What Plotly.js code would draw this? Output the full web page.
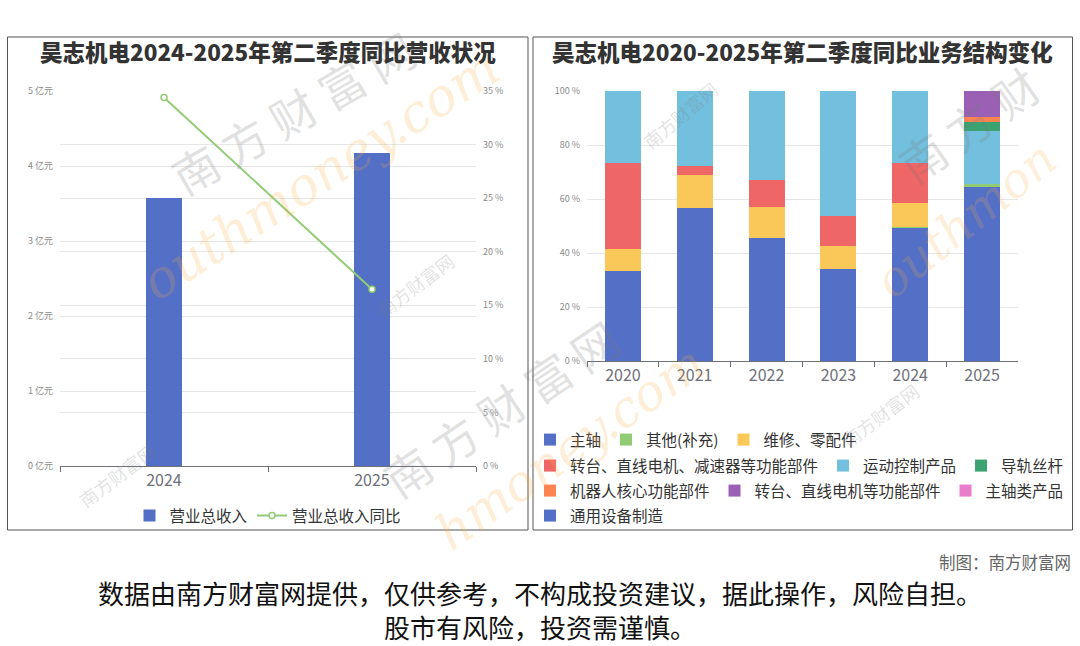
<!DOCTYPE html>
<html>
<head>
<meta charset="utf-8">
<script src="https://cdn.plot.ly/plotly-3.0.1.min.js"></script>
<style>
  html, body { margin: 0; padding: 0; background: #fff; }
  #chart { width: 1080px; height: 646px; }
</style>
</head>
<body>
<div id="chart"></div>
<script>
// ---------- data ----------
const revYears = ['2024', '2025'];
const revenue = [3.58, 4.17];          // 亿元
const revenueYoY = [34.4, 16.5];       // %

const years = ['2020', '2021', '2022', '2023', '2024', '2025'];
const segNames = [
  '主轴', '其他(补充)', '维修、零配件',
  '转台、直线电机、减速器等功能部件', '运动控制产品', '导轨丝杆',
  '机器人核心功能部件', '转台、直线电机等功能部件', '主轴类产品',
  '通用设备制造'
];
const segZhuzhou   = [33.3, 56.5, 45.6, 33.9, 49.1, 64.6];
const segQita      = [null, null, null, null, 0.4, 1.0];
const segWeixiu    = [8.2, 12.5, 11.4, 8.6, 9.2, null];
const segZhuantai  = [32.0, 3.3, 10.2, 11.2, 14.6, null];
const segYundong   = [26.5, 27.7, 32.8, 46.3, 26.7, 19.6];
const segDaogui    = [null, null, null, null, null, 3.2];
const segJiqiren   = [null, null, null, null, null, 1.9];
const segZhuantai2 = [null, null, null, null, null, 9.7];
const segZhuzhouLei = [null, null, null, null, null, null];
const segTongyong  = [null, null, null, null, null, null];
const segValues = [segZhuzhou, segQita, segWeixiu, segZhuantai, segYundong,
                   segDaogui, segJiqiren, segZhuantai2, segZhuzhouLei, segTongyong];

// ---------- styles ----------
const palette = ['#5470c6', '#91cc75', '#fac858', '#ee6666', '#73c0de',
                 '#3ba272', '#fc8452', '#9a60b4', '#ea7ccc', '#5470c6'];
const legendRow = ['legend2', 'legend2', 'legend2', 'legend3', 'legend3', 'legend3',
                   'legend4', 'legend4', 'legend4', 'legend5'];
const FONT = '"Noto Sans CJK SC", "Noto Sans", sans-serif';
const W = 1080, H = 646;
const px = v => v / W;
const py = v => 1 - v / H;

const traces = [];
traces.push({
  type: 'bar', name: '营业总收入', x: revYears, y: revenue,
  xaxis: 'x', yaxis: 'y', width: 0.173,
  marker: { color: '#5470c6' }, legend: 'legend', hoverinfo: 'skip'
});
traces.push({
  type: 'scatter', mode: 'lines+markers', name: '营业总收入同比',
  x: revYears, y: revenueYoY, xaxis: 'x', yaxis: 'y2',
  line: { color: '#91cc75', width: 2 },
  marker: { symbol: 'circle', size: 6, color: '#ffffff', line: { color: '#91cc75', width: 1.5 } },
  legend: 'legend', hoverinfo: 'skip'
});
segNames.forEach((n, i) => {
  traces.push({
    type: 'bar', name: n, x: years, y: segValues[i],
    xaxis: 'x2', yaxis: 'y3', width: 0.5,
    marker: { color: palette[i] }, legend: legendRow[i], hoverinfo: 'skip'
  });
});

const axisX = {
  type: 'category', tickson: 'boundaries', ticks: 'outside', ticklen: 5,
  tickcolor: '#6e7079', showline: true, linecolor: '#6e7079', linewidth: 1,
  showgrid: false, zeroline: false,
  tickfont: { family: FONT, size: 16, color: '#6e7079' }
};
const axisY = {
  showgrid: true, gridcolor: '#e6e6e6', gridwidth: 1, zeroline: false,
  showline: false, ticks: '', ticklabelstandoff: 6,
  tickfont: { family: FONT, size: 9, color: '#8a8a8a' }
};

function legendAt(x, y, anchor) {
  return {
    orientation: 'h', x: x, y: y, xanchor: anchor, yanchor: 'middle',
    traceorder: 'normal', bgcolor: 'rgba(0,0,0,0)',
    font: { family: FONT, size: 15.5, color: '#333' }
  };
}

const wmGray = 'rgba(120,120,120,0.22)';
const wmOrange = 'rgba(250,170,60,0.2)';
function wm(text, x, y, angle, size, color, italic) {
  return {
    text: italic ? '<i>' + text + '</i>' : text, x: px(x), y: py(y),
    xref: 'paper', yref: 'paper', showarrow: false, textangle: angle,
    xanchor: 'center', yanchor: 'middle',
    font: { family: italic ? 'DejaVu Serif, serif' : FONT, size: size, color: color }
  };
}

const annotations = [
  // watermarks
  wm('outhmoney.com', 320, 175, -33, 52, wmOrange, true),
  wm('南 方 财 富 网', 292, 112, -30, 46, wmGray, false),
  wm('hmoney.com', 570, 448, -35, 50, wmOrange, true),
  wm('南 方 财 富 网', 500, 408, -34, 46, wmGray, false),
  wm('outhmon', 965, 220, -39, 48, wmOrange, true),
  wm('南 方 财', 968, 124, -35, 46, wmGray, false),
  wm('南方财富网', 415, 285, -37, 18, wmGray, false),
  wm('南方财富网', 680, 115, -40, 18, wmGray, false),
  wm('南方财富网', 117, 475, -37, 18, wmGray, false),
  wm('南方财富网', 880, 415, -37, 18, wmGray, false),
  // titles
  {
    text: '昊志机电2024-2025年第二季度同比营收状况', x: px(267.5), y: py(51),
    xref: 'paper', yref: 'paper', showarrow: false, xanchor: 'center', yanchor: 'middle',
    font: { family: FONT, size: 22.5, color: '#333', weight: 900 }
  },
  {
    text: '昊志机电2020-2025年第二季度同比业务结构变化', x: px(802.5), y: py(51),
    xref: 'paper', yref: 'paper', showarrow: false, xanchor: 'center', yanchor: 'middle',
    font: { family: FONT, size: 22.5, color: '#333', weight: 900 }
  },
  // footer
  {
    text: '制图：南方财富网', x: px(1073), y: py(562),
    xref: 'paper', yref: 'paper', showarrow: false, xanchor: 'right', yanchor: 'middle',
    font: { family: FONT, size: 16.5, color: '#666' }
  },
  {
    text: '数据由南方财富网提供，仅供参考，不构成投资建议，据此操作，风险自担。<br>股市有风险，投资需谨慎。',
    x: 0.5, y: py(609), align: 'center',
    xref: 'paper', yref: 'paper', showarrow: false, xanchor: 'center', yanchor: 'middle',
    font: { family: FONT, size: 26, color: '#111' }
  }
];

const shapes = [
  { type: 'rect', xref: 'paper', yref: 'paper', x0: px(7.5), x1: px(528), y0: py(37), y1: py(530),
    line: { color: '#555', width: 1 }, fillcolor: 'rgba(0,0,0,0)' },
  { type: 'rect', xref: 'paper', yref: 'paper', x0: px(533), x1: px(1072.5), y0: py(37), y1: py(530),
    line: { color: '#555', width: 1 }, fillcolor: 'rgba(0,0,0,0)' }
];

const layout = {
  width: W, height: H, autosize: false,
  margin: { l: 0, r: 0, t: 0, b: 0, pad: 0 },
  paper_bgcolor: '#ffffff', plot_bgcolor: 'rgba(0,0,0,0)',
  barmode: 'stack', bargap: 0.5, hovermode: false,
  font: { family: FONT },
  xaxis: Object.assign({}, axisX, { domain: [px(60), px(476)], anchor: 'y' }),
  yaxis: Object.assign({}, axisY, {
    domain: [py(466), py(91)], range: [0, 5], dtick: 1, tick0: 0,
    ticksuffix: ' 亿元', anchor: 'x'
  }),
  yaxis2: Object.assign({}, axisY, {
    overlaying: 'y', side: 'right', range: [0, 35], dtick: 5, tick0: 0,
    ticksuffix: ' %', anchor: 'x'
  }),
  xaxis2: Object.assign({}, axisX, { domain: [px(587), px(1018)], anchor: 'y3' }),
  yaxis3: Object.assign({}, axisY, {
    domain: [py(361), py(91)], range: [0, 100], dtick: 20, tick0: 0,
    ticksuffix: ' %', anchor: 'x2'
  }),
  legend: legendAt(px(268), py(516), 'center'),
  legend2: legendAt(px(530), py(440), 'left'),
  legend3: legendAt(px(530), py(466), 'left'),
  legend4: legendAt(px(530), py(491), 'left'),
  legend5: legendAt(px(530), py(516), 'left'),
  annotations: annotations,
  shapes: shapes
};

Plotly.newPlot('chart', traces, layout, { displayModeBar: false, staticPlot: true });
</script>
</body>
</html>
